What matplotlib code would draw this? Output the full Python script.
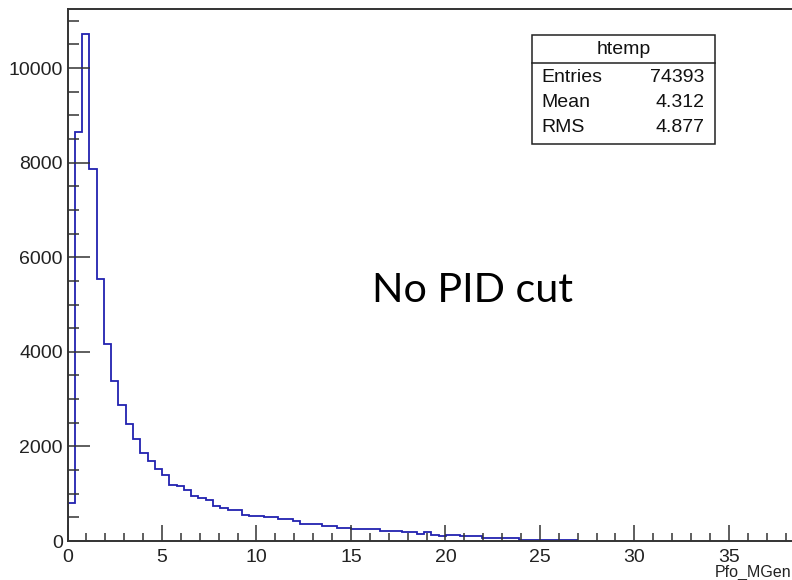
import numpy as np
import matplotlib
matplotlib.use("Agg")
import matplotlib.pyplot as plt
from matplotlib.patches import Rectangle
from matplotlib.ticker import MultipleLocator

# ---- data ----
bin_width = 0.385
counts = [805, 8650, 10720, 7870, 5530, 4160, 3385, 2869, 2482, 2150,
          1853, 1697, 1514, 1399, 1194, 1159, 1074, 954, 919, 869,
          742, 700, 650, 650, 558, 537, 537, 516, 516, 459,
          459, 424, 360, 360, 360, 325, 325, 276, 276, 247,
          247, 247, 247, 212, 212, 212, 184, 184, 155, 180,
          130, 105, 125, 128, 99, 99, 99, 63, 63, 63,
          63, 63, 28, 28, 28, 28, 28, 28, 28, 28]
hist_name = "htemp"
stats_labels = ["Entries", "Mean", "RMS"]
stats_values = ["74393", "4.312", "4.877"]
x_ticks_major = [0, 5, 10, 15, 20, 25, 30, 35]
y_ticks_major = [0, 2000, 4000, 6000, 8000, 10000]
x_label = "Pfo_MGen"
annotation = "No PID cut"

W, H = 792, 580
fig = plt.figure(figsize=(W / 100, H / 100), dpi=100)
fig.patch.set_facecolor("white")

def fx(px):
    return px / W

def fy(py):
    return 1 - py / H

ax_left, ax_right, ax_top, ax_bottom = 67.5, 795, 9, 541
ax = fig.add_axes([fx(ax_left), fy(ax_bottom), fx(ax_right - ax_left), (ax_bottom - ax_top) / H])

edges = np.arange(len(counts) + 1) * bin_width
ax.stairs(counts, edges, baseline=0, color="#2222b0", linewidth=1.3)

ax.set_xlim(0, 38.5)
ax.set_ylim(0, 11250)

rootfont = "Liberation Sans"
ax.set_xticks(x_ticks_major)
ax.set_yticks(y_ticks_major)
ax.xaxis.set_minor_locator(MultipleLocator(1))
ax.yaxis.set_minor_locator(MultipleLocator(500))
ax.tick_params(axis="x", which="major", direction="in", length=11.5, width=1.1,
               color="#333333", pad=6, labelsize=14, labelcolor="#222222")
ax.tick_params(axis="x", which="minor", direction="in", length=5.8, width=1.1, color="#333333")
ax.tick_params(axis="y", which="major", direction="in", length=16, width=1.1,
               color="#333333", pad=3.5, labelsize=14, labelcolor="#222222")
ax.tick_params(axis="y", which="minor", direction="in", length=8, width=1.1, color="#333333")
for lab in ax.get_xticklabels() + ax.get_yticklabels():
    lab.set_family(rootfont)
for sp in ax.spines.values():
    sp.set_color("#333333")
    sp.set_linewidth(1.4)

# x axis title at the lower right corner
fig.text(fx(791), fy(580), x_label, ha="right", va="bottom", fontsize=11.5,
         family=rootfont, color="#222222")

# stats box
bl, br, bt, bb, bsep = 532, 715, 35, 144, 62.7
fig.add_artist(Rectangle((fx(bl), fy(bb)), fx(br - bl), (bb - bt) / H,
                         transform=fig.transFigure, facecolor="white",
                         edgecolor="#222222", linewidth=1.1))
fig.add_artist(plt.Line2D([fx(bl), fx(br)], [fy(bsep), fy(bsep)],
                          transform=fig.transFigure, color="#222222", linewidth=1.1))
fig.text(fx((bl + br) / 2), fy(49), hist_name, ha="center", va="center",
         fontsize=14, family=rootfont, color="#111111")
row_y = [77, 102.5, 128]
for lab, val, yy in zip(stats_labels, stats_values, row_y):
    fig.text(fx(541.5), fy(yy), lab, ha="left", va="center", fontsize=14,
             family=rootfont, color="#111111")
    fig.text(fx(704), fy(yy), val, ha="right", va="center", fontsize=14,
             family=rootfont, color="#111111")

# annotation
fig.text(fx(372), fy(301.7), annotation, ha="left", va="baseline",
         fontsize=29.7, family="Lato", color="black")

fig.savefig("out.png", dpi=100)
